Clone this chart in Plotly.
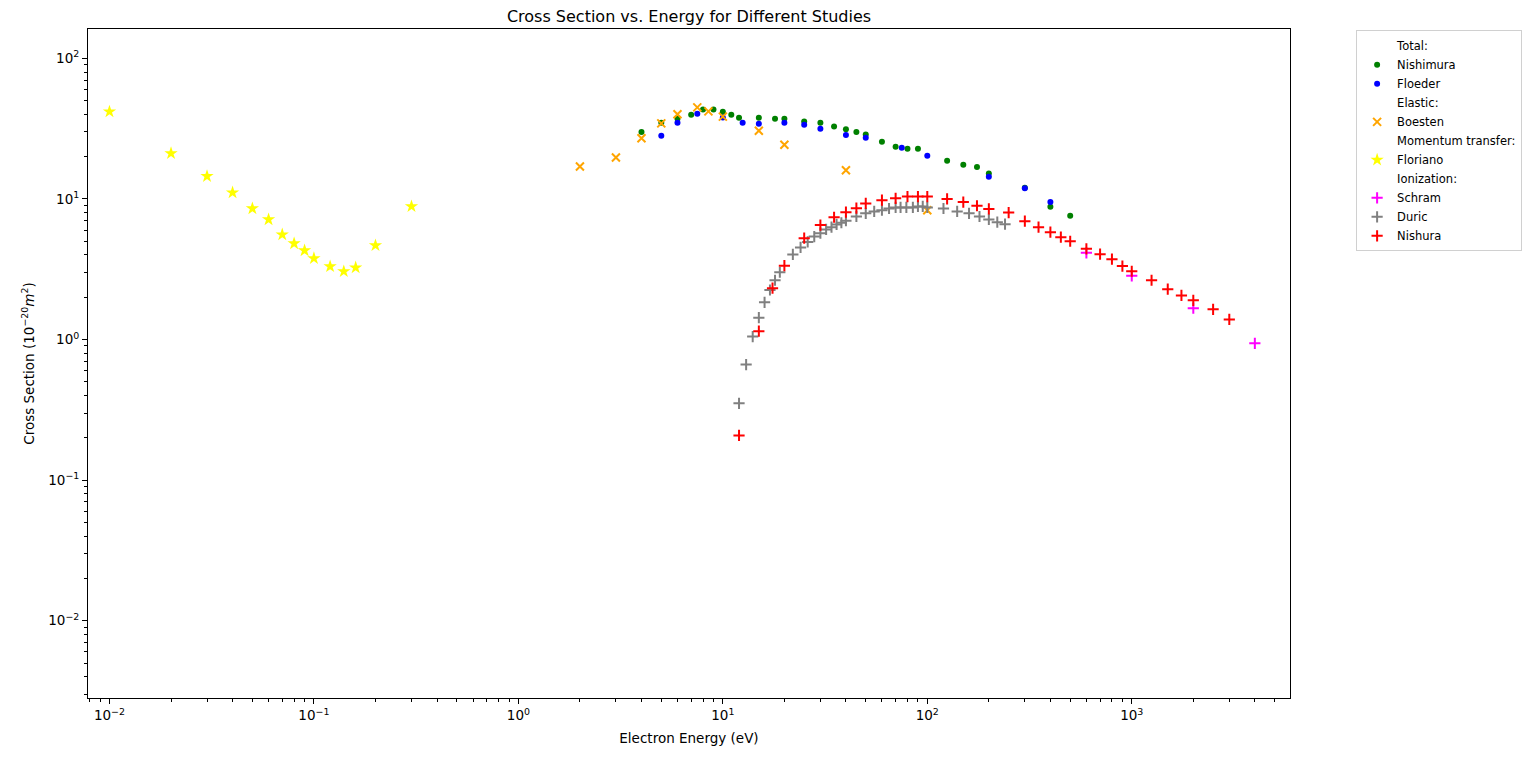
import plotly.graph_objects as go

# energies (eV) and cross sections (1e-20 m^2)
nishimura_x = [4, 5, 6, 7, 8, 9, 10, 11, 12, 15, 18, 20, 25, 30, 35, 40, 45, 50,
               60, 70, 80, 90, 125, 150, 175, 200, 300, 400, 500]
nishimura_y = [30, 34.8, 37.2, 39.7, 43.2, 43.2, 41.8, 39.7, 37.8, 37.8, 37.2, 37.2,
               35.6, 34.8, 32.7, 31.3, 30.0, 28.8, 25.5, 23.5, 22.8, 22.8, 18.7,
               17.5, 16.9, 15.2, 12.0, 8.8, 7.6]

floeder_x = [5, 6, 7.5, 10, 12.5, 15, 20, 25, 30, 40, 50, 75, 100, 200, 300, 400]
floeder_y = [28.2, 34.8, 40.4, 38.0, 34.8, 34.3, 34.8, 33.7, 31.6, 28.5, 27.3,
             23.1, 20.3, 14.4, 11.9, 9.5]

boesten_x = [2, 3, 4, 5, 6, 7.5, 8.5, 10, 15, 20, 40, 100]
boesten_y = [17, 19.7, 27, 34.5, 40, 44.8, 42, 38.5, 30.6, 24.3, 16, 8.3]

floriano_x = [0.01, 0.02, 0.03, 0.04, 0.05, 0.06, 0.07, 0.08, 0.09, 0.1, 0.12,
              0.14, 0.16, 0.2, 0.3]
floriano_y = [41.8, 21.1, 14.5, 11.1, 8.55, 7.14, 5.58, 4.82, 4.30, 3.78, 3.31,
              3.05, 3.25, 4.67, 8.85]

schram_x = [600, 1000, 2000, 4000]
schram_y = [4.14, 2.84, 1.67, 0.94]

duric_x = [12, 13, 14, 15, 16, 17, 18, 19, 22, 24, 26, 28, 30, 32, 34, 36, 38, 40,
           45, 50, 55, 60, 65, 70, 74, 79, 85, 90, 95, 100, 120, 140, 160, 180,
           200, 220, 240]
duric_y = [0.352, 0.664, 1.05, 1.43, 1.84, 2.25, 2.64, 3.01, 4.03, 4.52, 4.95,
           5.4, 5.71, 6.07, 6.3, 6.59, 6.77, 7.0, 7.5, 7.9, 8.15, 8.32, 8.55, 8.7,
           8.7, 8.7, 8.7, 8.85, 8.85, 8.7, 8.55, 8.15, 7.9, 7.5, 7.15, 6.84, 6.62]

nishura_x = [12, 15, 17.5, 20, 25, 30, 35, 40, 45, 50, 60, 70, 80, 90, 100, 125,
             150, 175, 200, 250, 300, 350, 400, 450, 500, 600, 700, 800, 900,
             1000, 1250, 1500, 1750, 2000, 2500, 3000]
nishura_y = [0.208, 1.146, 2.32, 3.35, 5.26, 6.52, 7.41, 8.05, 8.6, 9.3, 9.8,
             10.1, 10.4, 10.4, 10.4, 10.0, 9.5, 8.95, 8.5, 8.0, 6.95, 6.3, 5.8,
             5.35, 5.0, 4.42, 4.05, 3.73, 3.33, 3.06, 2.64, 2.28, 2.06, 1.90,
             1.64, 1.39]

x_tick_vals = [0.01, 0.1, 1, 10, 100, 1000]
x_tick_text = ["10<sup>\u22122</sup>", "10<sup>\u22121</sup>", "10<sup>0</sup>",
               "10<sup>1</sup>", "10<sup>2</sup>", "10<sup>3</sup>"]
y_tick_vals = [0.01, 0.1, 1, 10, 100]
y_tick_text = ["10<sup>\u22122</sup>", "10<sup>\u22121</sup>", "10<sup>0</sup>",
               "10<sup>1</sup>", "10<sup>2</sup>"]

FONT = "DejaVu Sans"


def header(name):
    # legend-only group title, no visible marker
    return go.Scatter(x=[None], y=[None], mode="markers", name=name,
                      marker=dict(color="rgba(0,0,0,0)", size=1), hoverinfo="skip")


def dots(x, y, name, color):
    return go.Scatter(x=x, y=y, mode="markers", name=name,
                      marker=dict(symbol="circle", size=6, color=color))


def thin(x, y, name, color, symbol, size):
    return go.Scatter(x=x, y=y, mode="markers", name=name,
                      marker=dict(symbol=symbol, size=size, color=color,
                                  line=dict(color=color, width=2)))


fig = go.Figure()
fig.add_trace(header("Total:"))
fig.add_trace(dots(nishimura_x, nishimura_y, "Nishimura", "green"))
fig.add_trace(dots(floeder_x, floeder_y, "Floeder", "blue"))
fig.add_trace(header("Elastic:"))
fig.add_trace(thin(boesten_x, boesten_y, "Boesten", "orange", "x-thin", 8))
fig.add_trace(header("Momentum transfer:"))
fig.add_trace(go.Scatter(x=floriano_x, y=floriano_y, mode="markers", name="Floriano",
                         marker=dict(symbol="star", size=10, color="yellow",
                                     line=dict(width=0))))
fig.add_trace(header("Ionization:"))
fig.add_trace(thin(schram_x, schram_y, "Schram", "magenta", "cross-thin", 8))
fig.add_trace(thin(duric_x, duric_y, "Duric", "gray", "cross-thin", 8))
fig.add_trace(thin(nishura_x, nishura_y, "Nishura", "red", "cross-thin", 8))

axis_style = dict(
    type="log",
    tickmode="array",
    showgrid=False,
    zeroline=False,
    showline=True,
    linecolor="black",
    linewidth=1,
    mirror=True,
    ticks="outside",
    ticklen=5,
    tickcolor="black",
    tickfont=dict(family=FONT, size=13.5, color="black"),
    minor=dict(ticks="outside", ticklen=3, tickcolor="black", dtick="D1",
               showgrid=False),
)

# the page body adds an 8px offset, so the figure is a bit smaller than the window
fig.update_layout(
    width=1528,
    height=754,
    margin=dict(l=80, r=246, t=21, b=64),
    paper_bgcolor="white",
    plot_bgcolor="white",
    font=dict(family=FONT, color="black"),
    title=dict(text="Cross Section vs. Energy for Different Studies",
               x=(80 + 601) / 1528, xanchor="center", y=1 - 3 / 754,
               yanchor="top", font=dict(family=FONT, size=16)),
    xaxis=dict(axis_style, range=[-2.105, 3.774],
               tickvals=x_tick_vals, ticktext=x_tick_text,
               title=dict(text="Electron Energy (eV)", standoff=11,
                          font=dict(family=FONT, size=13.5))),
    yaxis=dict(axis_style, range=[-2.550, 2.209],
               tickvals=y_tick_vals, ticktext=y_tick_text,
               title=dict(text="Cross Section (10<sup>\u221220</sup><i>m</i><sup>2</sup>)",
                          standoff=10, font=dict(family=FONT, size=13.5))),
    legend=dict(x=1.055, y=0.998, xanchor="left", yanchor="top",
                bordercolor="#d0d0d0", borderwidth=1, bgcolor="white",
                font=dict(family=FONT, size=11.5), tracegroupgap=0),
    showlegend=True,
)

fig.write_html("out.html")
